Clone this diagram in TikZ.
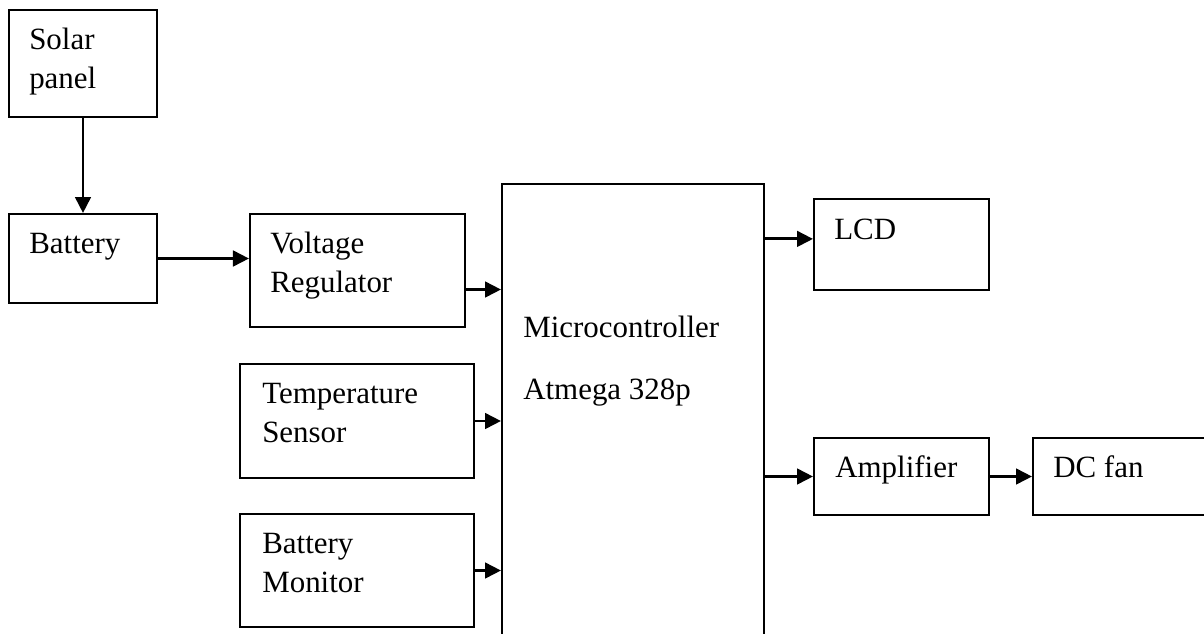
\documentclass[tikz,border=0pt]{standalone}
\usepackage{fontspec}
\setmainfont{Liberation Serif}
\usetikzlibrary{arrows.meta,positioning}

\begin{document}
\begin{tikzpicture}[
  x=0.025cm, y=-0.025cm,
  blk/.style={draw, line width=1.4pt, anchor=north west, inner sep=0pt},
  txt/.style={anchor=base west, inner sep=0pt, align=left, font=\fontsize{22}{27.5}\selectfont},
  arr/.style={-{Triangle[length=4mm,width=3.9mm]}, line width=2pt}
]
  \useasboundingbox (0,0) rectangle (1204,633);
  \clip (0,0) rectangle (1204,633);

  % blocks
  \node[blk, minimum width=3.7cm, minimum height=2.675cm] (solar) at (8,9) {};
  \node[blk, minimum width=3.7cm, minimum height=2.225cm] (battery) at (8,213) {};
  \node[blk, minimum width=5.375cm, minimum height=2.825cm] (volreg) at (249,213) {};
  \node[blk, minimum width=5.85cm, minimum height=2.85cm] (tempsens) at (239,363) {};
  \node[blk, minimum width=5.85cm, minimum height=2.825cm] (batmon) at (239,513) {};
  \node[blk, minimum width=6.55cm, minimum height=13cm] (mcu) at (501,183) {};
  \node[blk, minimum width=4.375cm, minimum height=2.275cm] (lcd) at (813,198) {};
  \node[blk, minimum width=4.375cm, minimum height=1.925cm] (amp) at (813,437) {};
  \node[blk, minimum width=4.5cm, minimum height=1.925cm] (dcfan) at (1032,437) {};

  % texts (base = last line)
  \node[txt] (solar-t) at ([shift={(21,79)}]solar.north west) {Solar\\panel};
  \node[txt] (battery-t) at ([shift={(21,40)}]battery.north west) {Battery};
  \node[txt] (volreg-t) at ([shift={(21,79)}]volreg.north west) {Voltage\\Regulator};
  \node[txt] (tempsens-t) at ([shift={(23,79)}]tempsens.north west) {Temperature\\Sensor};
  \node[txt] (batmon-t) at ([shift={(23,79)}]batmon.north west) {Battery\\Monitor};
  \node[txt] (mcu-t) at ([shift={(22,216)}]mcu.north west) {Microcontroller\\[15.9pt]Atmega 328p};
  \node[txt] (lcd-t) at ([shift={(21,41)}]lcd.north west) {LCD};
  \node[txt] (amp-t) at ([shift={(22,40)}]amp.north west) {Amplifier};
  \node[txt] (dcfan-t) at ([shift={(21,40)}]dcfan.north west) {DC fan};

  % connectors
  \coordinate (vr-out) at ([yshift=-0.475cm]volreg.east);
  \coordinate (lcd-in) at ([yshift=0.14cm]lcd.west);
  \draw[arr] (solar.south) -- (battery.north);
  \draw[arr] (battery.east) -- (battery.east -| volreg.west);
  \draw[arr] (vr-out) -- (vr-out -| mcu.west);
  \draw[arr] (tempsens.east) -- (tempsens.east -| mcu.west);
  \draw[arr] (batmon.east) -- (batmon.east -| mcu.west);
  \draw[arr] (lcd-in -| mcu.east) -- (lcd-in);
  \draw[arr] (amp.west -| mcu.east) -- (amp.west);
  \draw[arr] (amp.east) -- (dcfan.west);
\end{tikzpicture}
\end{document}
